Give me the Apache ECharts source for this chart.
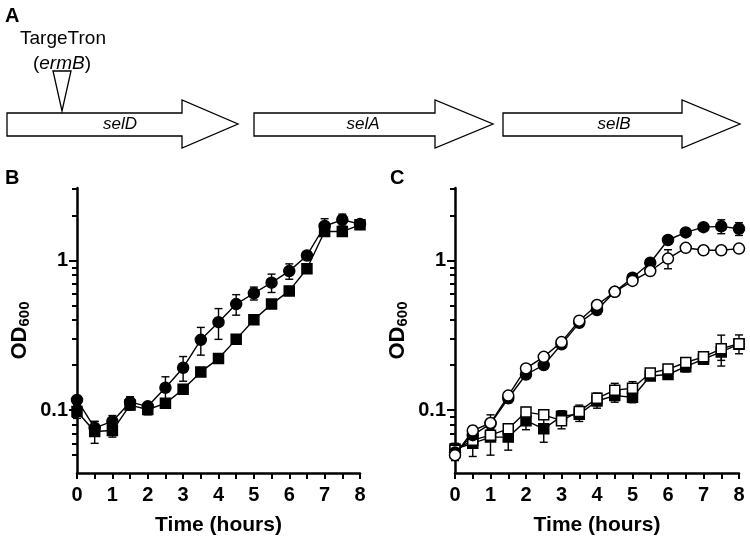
<!DOCTYPE html>
<html>
<head>
<meta charset="utf-8">
<script src="https://cdn.jsdelivr.net/npm/echarts@6/dist/echarts.min.js"></script>
<style>
html,body{margin:0;padding:0;background:#fff;}
#c{width:750px;height:541px;}
</style>
</head>
<body>
<div id="c"></div>
<script>
// ---- data ----
const timeHours = [0,0.5,1,1.5,2,2.5,3,3.5,4,4.5,5,5.5,6,6.5,7,7.5,8];
const xTickLabels = [0,1,2,3,4,5,6,7,8];
const yTickLabels = [0.1, 1];
const yMinorTicks = [0.05,0.06,0.07,0.08,0.09,0.2,0.3,0.4,0.5,0.6,0.7,0.8,0.9,2,3];

// Panel B
const bCircle    = [0.117,0.076,0.084,0.113,0.106,0.141,0.192,0.295,0.387,0.511,0.604,0.711,0.849,1.08,1.70,1.87,1.75];
const bCircleErr = [0.008,0.008,0.008,0.010,0.006,0.026,0.036,0.062,0.090,0.080,0.060,0.100,0.100,0.030,0.200,0.170,0.080];
const bSquare    = [0.098,0.072,0.073,0.108,0.101,0.111,0.138,0.180,0.221,0.297,0.402,0.511,0.626,0.88,1.56,1.56,1.73];
const bSquareErr = [0.010,0.012,0.007,0.008,0.008,0.005,0.010,0.010,0.010,0.010,0.010,0.020,0.020,0.030,0.050,0.050,0.050];

// Panel C
const cFilledCircle    = [0.052,0.068,0.081,0.120,0.173,0.200,0.275,0.383,0.467,0.617,0.767,0.965,1.37,1.54,1.67,1.69,1.63];
const cFilledCircleErr = [0.004,0.006,0.012,0.008,0.008,0.010,0.015,0.020,0.030,0.030,0.030,0.040,0.050,0.060,0.080,0.180,0.160];
const cOpenCircle      = [0.050,0.073,0.082,0.125,0.190,0.227,0.285,0.396,0.504,0.617,0.730,0.850,1.03,1.215,1.17,1.17,1.20];
const cOpenCircleErr   = [0.004,0.005,0.005,0.006,0.006,0.010,0.010,0.015,0.020,0.030,0.030,0.040,0.150,0.030,0.030,0.030,0.030];
const cFilledSquare    = [0.055,0.060,0.066,0.066,0.085,0.075,0.091,0.094,0.115,0.125,0.122,0.169,0.173,0.195,0.219,0.245,0.276];
const cFilledSquareErr = [0.005,0.011,0.016,0.012,0.011,0.014,0.008,0.010,0.012,0.012,0.010,0.010,0.010,0.015,0.015,0.030,0.020];
const cOpenSquare      = [0.054,0.063,0.068,0.075,0.097,0.093,0.085,0.098,0.120,0.136,0.140,0.177,0.188,0.208,0.227,0.257,0.278];
const cOpenSquareErr   = [0.004,0.005,0.006,0.006,0.007,0.006,0.010,0.010,0.010,0.015,0.015,0.010,0.010,0.015,0.015,0.060,0.040];

// ---- chart ----
const FONT = 'Liberation Sans, Arial, sans-serif';
const chart = echarts.init(document.getElementById('c'), null, {renderer:'canvas'});

function pts(vals){ return timeHours.map((t,i)=>[t, vals[i]]); }
function errPts(vals, errs){ return timeHours.map((t,i)=>[t, vals[i], errs[i]]); }

function errRender(params, api){
  const x = api.value(0), y = api.value(1), e = api.value(2);
  const top = api.coord([x, y + e]);
  const bot = api.coord([x, Math.max(y - e, 0.001)]);
  const w = 4;
  const st = {stroke:'#000', lineWidth:1.4};
  return {type:'group', children:[
    {type:'line', shape:{x1:top[0],y1:top[1],x2:bot[0],y2:bot[1]}, style:st},
    {type:'line', shape:{x1:top[0]-w,y1:top[1],x2:top[0]+w,y2:top[1]}, style:st},
    {type:'line', shape:{x1:bot[0]-w,y1:bot[1],x2:bot[0]+w,y2:bot[1]}, style:st}
  ]};
}

function xAxis(gi){
  return {
    type:'value', gridIndex:gi, min:0, max:8, interval:1,
    axisLine:{show:true, lineStyle:{color:'#000', width:2.5}},
    axisTick:{show:true, inside:false, length:6, lineStyle:{color:'#000', width:2}},
    minorTick:{show:true, splitNumber:2, length:6, lineStyle:{color:'#000', width:2}},
    splitLine:{show:false},
    axisLabel:{color:'#000', fontSize:20, fontWeight:'bold', fontFamily:FONT, margin:12,
      customValues:xTickLabels},
    name:'Time (hours)', nameLocation:'middle', nameGap:42,
    nameTextStyle:{color:'#000', fontSize:21, fontWeight:'bold', fontFamily:FONT}
  };
}
function yAxisMain(gi){
  return {
    type:'log', logBase:10, gridIndex:gi, min:0.038, max:3.05, position:'left',
    axisLine:{show:true, lineStyle:{color:'#000', width:2.5}},
    axisTick:{show:true, inside:false, length:5, customValues:yMinorTicks, lineStyle:{color:'#000', width:2}},
    splitLine:{show:false}, minorSplitLine:{show:false},
    axisLabel:{color:'#000', fontSize:20, fontWeight:'bold', fontFamily:FONT, margin:9,
      customValues:yTickLabels, formatter:function(v){ return String(+(+v).toPrecision(3)); }},
    name:'{a|OD}{s|600}', nameLocation:'middle', nameGap:45,
    nameTextStyle:{color:'#000', fontFamily:FONT,
      rich:{a:{fontSize:22, fontWeight:'bold', fontFamily:FONT, color:'#000'},
            s:{fontSize:15, fontWeight:'bold', fontFamily:FONT, color:'#000', verticalAlign:'bottom', padding:[10,0,0,0]}}}
  };
}
function yAxisMajor(gi){
  return {
    type:'log', logBase:10, gridIndex:gi, min:0.038, max:3.05, position:'left', offset:0,
    axisLine:{show:false},
    axisTick:{show:true, inside:false, length:8, customValues:yTickLabels, lineStyle:{color:'#000', width:2}},
    splitLine:{show:false},
    axisLabel:{show:false}
  };
}

function lineSeries(xi, yi, vals, symbol, filled, size, z){
  return {
    type:'line', xAxisIndex:xi, yAxisIndex:yi, data:pts(vals),
    symbol:symbol, symbolSize:size, showAllSymbol:true, clip:false, z:z,
    lineStyle:{color:'#000', width:1.4},
    itemStyle:{color: filled ? '#000' : '#fff', borderColor:'#000', borderWidth:1.5},
    emphasis:{disabled:true}, silent:true
  };
}
function errSeries(xi, yi, vals, errs){
  return {
    type:'custom', xAxisIndex:xi, yAxisIndex:yi, data:errPts(vals, errs),
    renderItem:errRender, z:1, silent:true, clip:false
  };
}

const option = {
  animation:false,
  backgroundColor:'#fff',
  grid:[
    {left:77, width:283, top:188, height:286},
    {left:455, width:284, top:188, height:286}
  ],
  xAxis:[xAxis(0), xAxis(1)],
  yAxis:[yAxisMain(0), yAxisMajor(0), yAxisMain(1), yAxisMajor(1)],
  series:[
    errSeries(0,0,bCircle,bCircleErr),
    errSeries(0,0,bSquare,bSquareErr),
    lineSeries(0,0,bSquare,'rect',true,10,3),
    lineSeries(0,0,bCircle,'circle',true,11,4),

    errSeries(1,2,cFilledSquare,cFilledSquareErr),
    errSeries(1,2,cOpenSquare,cOpenSquareErr),
    errSeries(1,2,cFilledCircle,cFilledCircleErr),
    errSeries(1,2,cOpenCircle,cOpenCircleErr),
    lineSeries(1,2,cFilledSquare,'rect',true,10,3),
    lineSeries(1,2,cOpenSquare,'rect',false,10,4),
    lineSeries(1,2,cFilledCircle,'circle',true,11,5),
    lineSeries(1,2,cOpenCircle,'circle',false,11,6)
  ],
  graphic:[
    // panel letters
    {type:'text', left:5, top:6, style:{text:'A', font:'bold 20px '+FONT, fill:'#000'}},
    {type:'text', left:5, top:168, style:{text:'B', font:'bold 20px '+FONT, fill:'#000'}},
    {type:'text', left:390, top:168, style:{text:'C', font:'bold 20px '+FONT, fill:'#000'}},
    // gene arrows
    {type:'polygon', shape:{points:[[7,113],[182,113],[182,100],[238,124],[182,148],[182,136],[7,136]]}, style:{fill:'#fff', stroke:'#000', lineWidth:1.3}},
    {type:'polygon', shape:{points:[[254,113],[435,113],[435,100],[493,124],[435,148],[435,136],[254,136]]}, style:{fill:'#fff', stroke:'#000', lineWidth:1.3}},
    {type:'polygon', shape:{points:[[503,113],[682,113],[682,100],[740,124],[682,148],[682,136],[503,136]]}, style:{fill:'#fff', stroke:'#000', lineWidth:1.3}},
    {type:'text', x:120, y:124, style:{text:'selD', font:'italic 17px '+FONT, fill:'#000', align:'center', verticalAlign:'middle'}},
    {type:'text', x:363, y:124, style:{text:'selA', font:'italic 17px '+FONT, fill:'#000', align:'center', verticalAlign:'middle'}},
    {type:'text', x:614, y:124, style:{text:'selB', font:'italic 17px '+FONT, fill:'#000', align:'center', verticalAlign:'middle'}},
    // insertion triangle and label
    {type:'polygon', shape:{points:[[53,71],[71,71],[62,111]]}, style:{fill:'#fff', stroke:'#000', lineWidth:1.3}},
    {type:'text', x:63, y:39, style:{text:'TargeTron', font:'19px '+FONT, fill:'#000', align:'center', verticalAlign:'middle'}},
    {type:'text', x:62, y:64, style:{text:'({i|ermB})', font:'19px '+FONT, fill:'#000', align:'center', verticalAlign:'middle',
      rich:{i:{fontStyle:'italic', fontSize:19, fontFamily:FONT, fill:'#000'}}}}
  ]
};
chart.setOption(option);
</script>
</body>
</html>
